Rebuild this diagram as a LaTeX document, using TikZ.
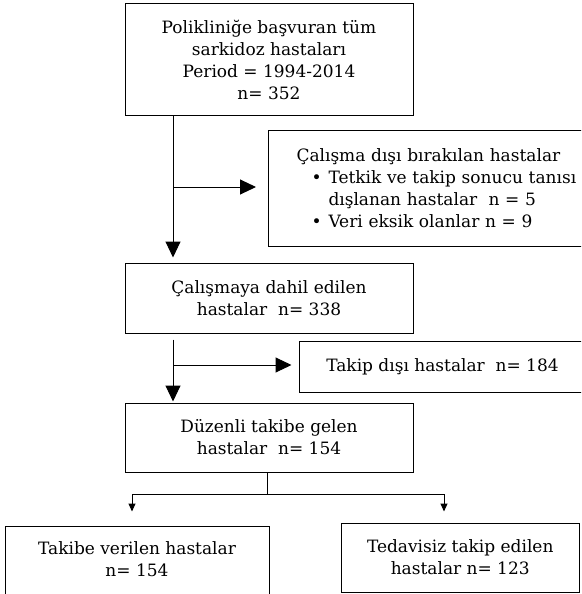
\documentclass[tikz,border=0pt]{standalone}
\usepackage{fontspec}
\setmainfont{DejaVu Serif}
\usetikzlibrary{arrows.meta}
\tikzset{
  box/.style={draw, line width=1pt, rectangle, inner sep=0pt, align=center,
    font=\fontsize{17pt}{22pt}\selectfont},
  txt/.style={inner sep=0pt, align=center, font=\fontsize{17pt}{22pt}\selectfont},
  conn/.style={line width=1pt},
  bigarr/.style={conn, -{Triangle[length=16pt,width=15pt]}},
  smallarr/.style={conn, -{Triangle[length=8pt,width=7pt]}}
}
\begin{document}
\begin{tikzpicture}[x=1pt,y=-1pt]
\useasboundingbox (0,0) rectangle (581,594);
\clip (0,0) rectangle (581,594);
% boxes
\node[box, minimum width=288pt, minimum height=111pt] (b1) at (269,59.5)
  {Polikliniğe başvuran tüm\\sarkidoz hastaları\\Period = 1994-2014\\n= 352};
\node[box, anchor=north west, minimum height=116pt, text width=290pt, align=left,
  inner xsep=28pt] (b2) at (268,130)
  {Çalışma dışı bırakılan hastalar\\
   \hspace*{15pt}\makebox[17pt][l]{\textbullet}Tetkik ve takip sonucu tanısı\\
   \hspace*{32pt}dışlanan hastalar\ \ n = 5\\
   \hspace*{15pt}\makebox[17pt][l]{\textbullet}Veri eksik olanlar n = 9};
\node[box, minimum width=288pt, minimum height=70pt] (b3) at (269,298)
  {Çalışmaya dahil edilen\\hastalar\ \ n= 338};
\node[box, minimum width=287pt, minimum height=51pt] (b3x) at (442.5,366.5)
  {Takip dışı hastalar\ \ n= 184};
\node[box, minimum width=288pt, minimum height=69pt] (b4) at (269,437.5)
  {Düzenli takibe gelen\\hastalar\ \ n= 154};
\node[box, minimum width=264pt, minimum height=90pt] (b5) at (137,571) {};
\node[txt] (t5) at (137,559) {Takibe verilen hastalar\\n= 154};
\node[box, minimum width=238.5pt, minimum height=69pt] (b6) at (460.25,557.5)
  {Tedavisiz takip edilen\\hastalar n= 123};
% connector coordinates
\coordinate (c1) at (173,0);
\coordinate (j1) at (173,187);
\coordinate (j2) at (173,365);
\coordinate (k) at (267,494);
\coordinate (kl) at (132,494);
\coordinate (kr) at (444,494);
% connectors
\draw[bigarr, shorten >=5pt] (b1.south -| c1) -- (b3.north -| c1);
\draw[bigarr, shorten >=12pt] (j1) -- (j1 -| b2.west);
\draw[bigarr, shorten >=1pt] ([yshift=-6pt]b3.south -| c1) -- (b4.north -| c1);
\draw[bigarr, shorten >=7pt] (j2) -- (j2 -| b3x.west);
\draw[conn] (b4.south -| k) -- (k);
\draw[conn] (kl) -- (kr);
\draw[smallarr, shorten >=14pt] (kl) -- (kl |- b5.north);
\draw[smallarr, shorten >=11pt] (kr) -- (kr |- b6.north);
\end{tikzpicture}
\end{document}
